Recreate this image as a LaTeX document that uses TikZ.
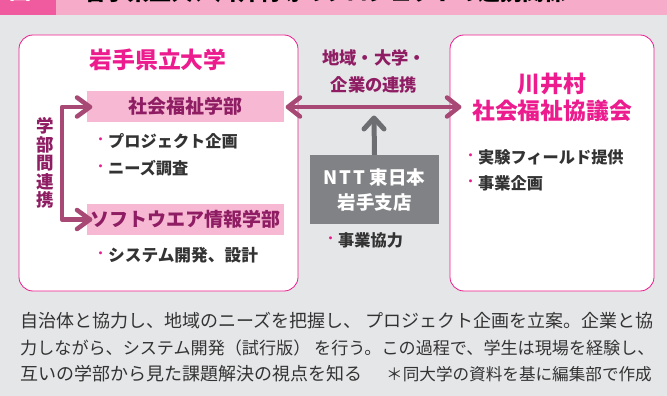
\documentclass[tikz,border=0pt]{standalone}
\usepackage{fontspec}
\setmainfont{Noto Sans CJK JP}
\definecolor{bg}{HTML}{E5E6E8}
\definecolor{mag}{HTML}{EC1C8E}
\definecolor{deep}{HTML}{8F1D63}
\definecolor{band}{HTML}{F6ABC9}
\definecolor{tab}{HTML}{F05A9E}
\definecolor{pinkbox}{HTML}{F6B8D2}
\definecolor{arrowc}{HTML}{A84874}
\definecolor{grayc}{HTML}{808285}
\definecolor{arrowg}{HTML}{6D6E71}
\definecolor{ink}{HTML}{333333}
\tikzset{
 x=1pt,y=-1pt,
 orgbox/.style={draw=mag,line width=.8pt,fill=white,rounded corners=14pt},
 deptbox/.style={fill=pinkbox,inner sep=0pt,minimum width=197pt,minimum height=31pt},
 ntt/.style={fill=grayc,text=white,inner sep=0pt,minimum width=129pt,minimum height=69pt,align=center,font=\fontsize{18.5}{25}\selectfont\bfseries},
 orgtitle/.style={text=mag,font=\fontsize{22.8}{27}\selectfont\bfseries,align=center,inner sep=0pt},
 depttext/.style={text=deep,font=\fontsize{19}{21}\selectfont\bfseries,inner sep=0pt},
 linklabel/.style={text=deep,font=\fontsize{17.3}{27}\selectfont\bfseries,align=center,inner sep=0pt},
 item/.style={text=ink,anchor=west,font=\fontsize{16.2}{19}\selectfont\bfseries,inner sep=0pt},
 dot/.style={text=mag,anchor=center,font=\fontsize{11}{13}\selectfont\bfseries,inner sep=0pt},
 para/.style={text=ink,anchor=west,inner sep=0pt},
 fatpink/.style={draw=arrowc,line width=4.5pt,line cap=round,line join=round},
 fatgray/.style={draw=arrowg,line width=5pt,line cap=round,line join=round},
}
\begin{document}
\begin{tikzpicture}
\useasboundingbox (0,0) rectangle (667,396);
\fill[bg] (0,0) rectangle (667,396);
\fill[band] (56,0) rectangle (667,15);
\fill[tab] (0,0) rectangle (56,15);
\begin{scope}
\clip (0,0) rectangle (667,15);
\node[inner sep=0pt,font=\fontsize{22}{24}\selectfont\bfseries,text=white] (fig) at (27,-8) {図1};
\node[inner sep=0pt,font=\fontsize{22}{24}\selectfont\bfseries,text=black] (title) at (325,-8) {岩手県立大、川井村等のプロジェクトの連携関係};
\end{scope}
\node[orgbox,minimum width=279pt,minimum height=256pt,inner sep=0pt] (iwate) at (158.5,163) {};
\node[orgbox,minimum width=204pt,minimum height=256pt,inner sep=0pt] (kawai) at (552,163) {};
\node[orgtitle] (iwatet) at (158,60) {岩手県立大学};
\node[orgtitle] (kawait) at (552,97) {川井村\\社会福祉協議会};
\node[deptbox] (soc) at (185.5,106.5) {};
\node[depttext] at (soc) {社会福祉学部};
\node[deptbox] (soft) at (185.5,219.5) {};
\node[depttext] at (soft) {ソフトウエア情報学部};
\node[linklabel] (link) at (374,71.5) {地域・大学・\\企業の連携};
\node[ntt] (nttb) at (374.5,189.5) {N\kern2pt T\kern2pt T\kern4pt 東日本\\岩手支店};
\node[item] (i1) at (108,141) {プロジェクト企画};
\node[item] (i2) at (108,168) {ニーズ調査};
\node[item,font=\fontsize{16.7}{19}\selectfont\bfseries] (i3) at (108,255) {システム開発、設計};
\node[item] (i4) at (478,157) {実験フィールド提供};
\node[item] (i5) at (478,183) {事業企画};
\node[item] (i6) at (338,240) {事業協力};
\foreach \n in {i1,i2,i3,i4,i5,i6}{\node[dot,xshift=-7.5pt] at (\n.west) {・};}
\node[text=deep,font=\fontsize{17.5}{18.6}\selectfont\bfseries,align=center,inner sep=0pt] (gakubu) at (45,163) {学\\部\\間\\連\\携};
\coordinate (L) at (62,107);
\coordinate (L2) at (62,219.5);
\coordinate (tipa) at (90,107);
\coordinate (tipb) at (90,219.5);
\draw[fatpink] (tipa) -- (L) -- (L2) -- (tipb);
\draw[fatpink] (77,97.5) -- (tipa) -- (77,116.5);
\draw[fatpink] (77,210) -- (tipb) -- (77,229);
\coordinate (hl) at (288,107);
\coordinate (hr) at (459,107);
\draw[fatpink] (hl) -- (hr);
\draw[fatpink] (300,97.5) -- (hl) -- (300,116.5);
\draw[fatpink] (447,97.5) -- (hr) -- (447,116.5);
\coordinate (up) at (374,118);
\draw[fatgray,line cap=butt] (nttb.north) -- (up);
\draw[fatgray] (364,129) -- (up) -- (384,129);
\node[para,font=\fontsize{18}{20}\selectfont] (p1) at (20,321) {自治体と協力し、地域のニーズを把握し、 プロジェクト企画を立案。企業と協};
\node[para,font=\fontsize{17.1}{20}\selectfont] (p2) at (20,348) {力しながら、システム開発（試行版） を行う。この過程で、学生は現場を経験し、};
\node[para,font=\fontsize{18}{20}\selectfont] (p3) at (20,374) {互いの学部から見た課題解決の視点を知る};
\node[para,anchor=east,font=\fontsize{16.6}{18}\selectfont] (p4) at (652,374) {＊同大学の資料を基に編集部で作成};
\end{tikzpicture}
\end{document}
